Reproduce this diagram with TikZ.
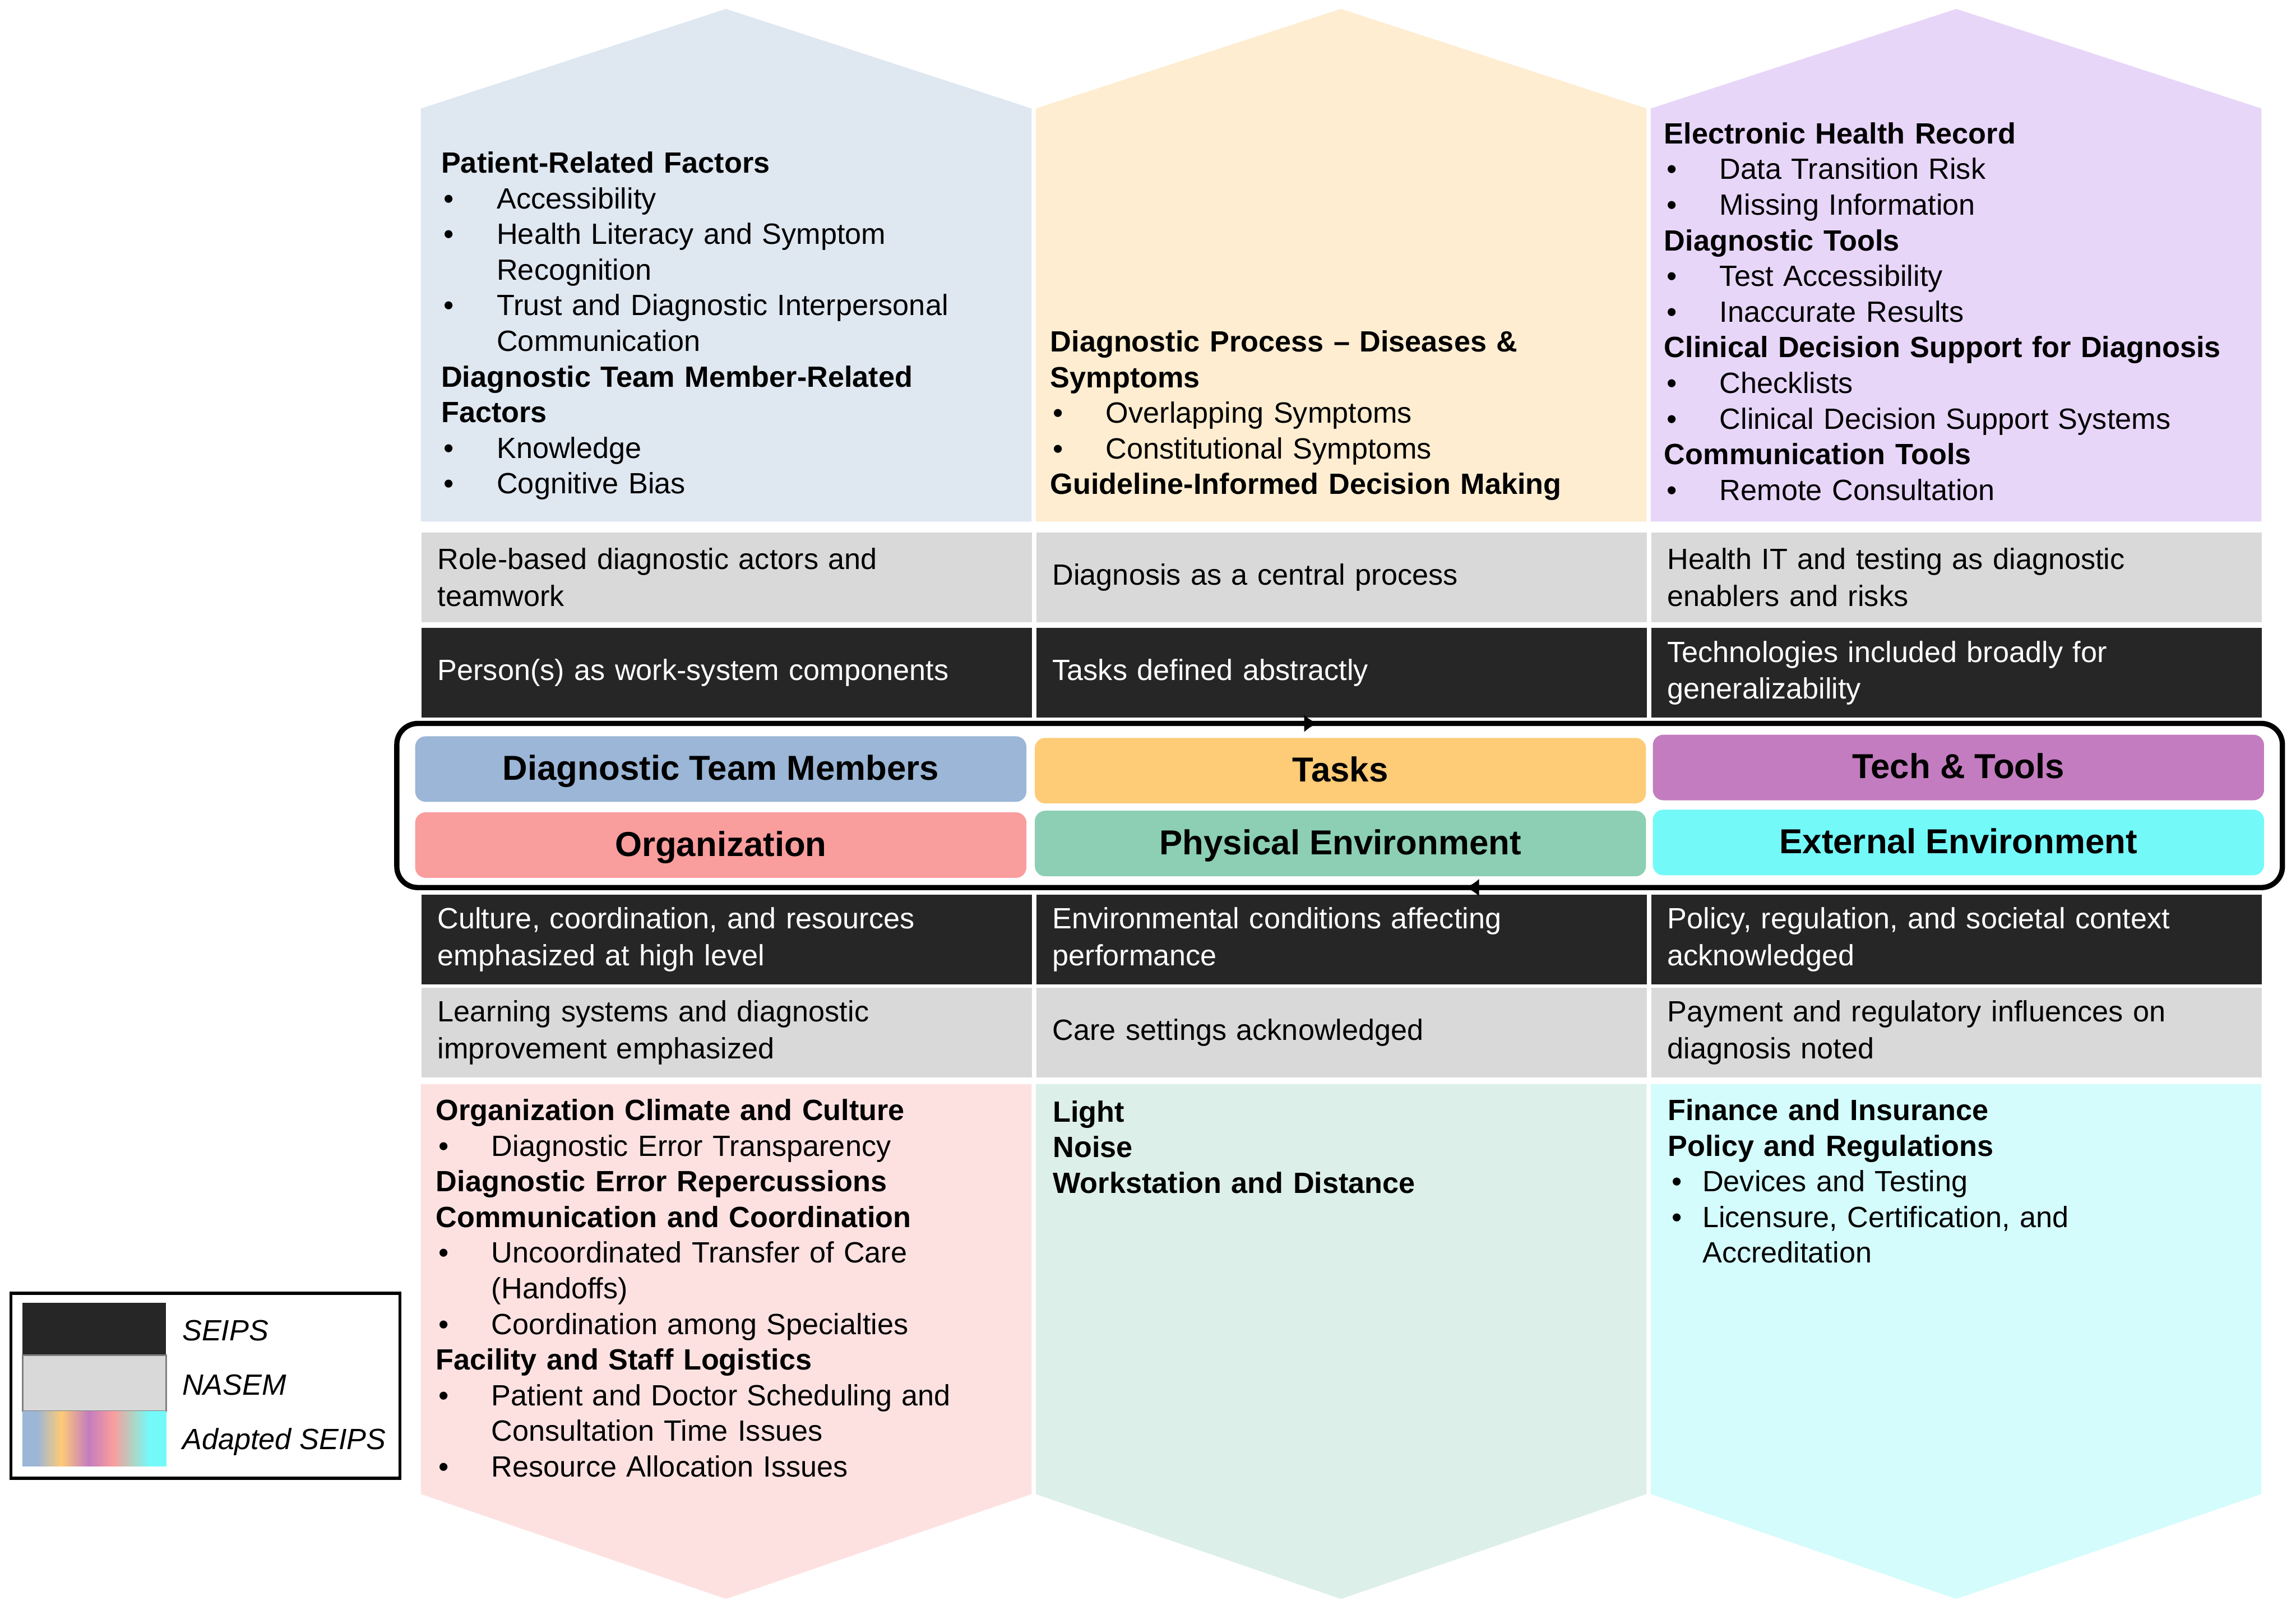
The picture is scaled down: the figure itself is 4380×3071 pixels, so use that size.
\documentclass[tikz,border=0pt]{standalone}
\usepackage{fontspec}
\setmainfont{Liberation Sans}
\usetikzlibrary{arrows.meta,positioning,decorations.markings}
\definecolor{seips}{RGB}{38,38,38}
\definecolor{nasem}{RGB}{217,217,217}
\definecolor{teamhead}{RGB}{155,182,214}
\definecolor{taskhead}{RGB}{254,203,119}
\definecolor{techhead}{RGB}{195,124,191}
\definecolor{orghead}{RGB}{250,157,157}
\definecolor{physhead}{RGB}{140,207,180}
\definecolor{exthead}{RGB}{116,249,249}
\definecolor{teamlight}{RGB}{223,231,241}
\definecolor{tasklight}{RGB}{254,237,209}
\definecolor{techlight}{RGB}{232,214,249}
\definecolor{orglight}{RGB}{253,225,225}
\definecolor{physlight}{RGB}{220,239,232}
\definecolor{extlight}{RGB}{212,252,252}
\colorlet{legmix}{physhead!55!nasem}
\pgfdeclarehorizontalshading{adapted}{100bp}{color(0bp)=(teamhead); color(30bp)=(teamhead);
  color(38.5bp)=(taskhead); color(48bp)=(techhead); color(56.5bp)=(orghead);
  color(63.5bp)=(legmix); color(69bp)=(exthead); color(100bp)=(exthead)}
\newcommand{\rowfont}{\fontsize{15.9pt}{19.9pt}\selectfont}
\newcommand{\facfont}{\fontsize{15.9pt}{19.35pt}\selectfont}
\newcommand{\compfont}{\fontsize{18.8pt}{22pt}\selectfont\bfseries}
\newcommand{\bul}{\makebox[10.6mm][l]{\hspace{0.5mm}\textbullet}}
\newcommand{\cont}{\hspace*{10.6mm}}
\newcommand{\sbul}{\makebox[6.6mm][l]{\hspace{0.8mm}\textbullet}}
\tikzset{
  seipsrow/.style={fill=seips,text=white,anchor=north west,inner xsep=3.1mm,inner ysep=0pt,
                   text width=110.3mm,minimum height=17.1mm,align=left,font=\rowfont},
  nasemrow/.style={seipsrow,fill=nasem,text=black},
  comp/.style={rounded corners=2mm,minimum width=116.6mm,minimum height=12.5mm,
               text height=5.2mm,text depth=1mm,font=\compfont},
  factors/.style={anchor=base west,inner sep=0pt,text width=112mm,align=left,font=\facfont},
  legtext/.style={anchor=base west,inner sep=0pt,font=\rowfont\itshape},
  loopline/.style={line width=1mm,rounded corners=4mm,postaction={decorate},
    decoration={markings,
      mark=at position 0.2394 with {\arrow{Latex[length=2.6mm,width=3.4mm]}},
      mark=at position 0.7138 with {\arrow{Latex[length=2.6mm,width=3.4mm]}}}}
}

\begin{document}
\begin{tikzpicture}[x=0.1mm,y=-0.1mm]
  \useasboundingbox (0,0) rectangle (4380,3071);
  \fill[white] (0,0) rectangle (4380,3071);

  \fill[teamlight] (803,995) -- (803,207) -- (1385,17) -- (1968,207) -- (1968,995) -- cycle;
  \fill[tasklight] (1976,995) -- (1976,207) -- (2558,17) -- (3141,207) -- (3141,995) -- cycle;
  \fill[techlight] (3149,995) -- (3149,207) -- (3732,17) -- (4314,207) -- (4314,995) -- cycle;
  \fill[orglight] (803,2068) -- (1968,2068) -- (1968,2850) -- (1385,3050) -- (803,2850) -- cycle;
  \fill[physlight] (1976,2068) -- (3141,2068) -- (3141,2850) -- (2558,3050) -- (1976,2850) -- cycle;
  \fill[extlight] (3149,2068) -- (4314,2068) -- (4314,2850) -- (3732,3050) -- (3149,2850) -- cycle;

  \node[nasemrow] (teamnasem) at (803,1015) {Role-based diagnostic actors and\\teamwork};
  \node[nasemrow] (tasknasem) at (1976,1015) {Diagnosis as a central process};
  \node[nasemrow] (technasem) at (3149,1015) {Health IT and testing as diagnostic\\enablers and risks};
  \node[seipsrow,below=1mm of teamnasem] (teamseips) {Person(s) as work-system components};
  \node[seipsrow,below=1mm of tasknasem] (taskseips) {Tasks defined abstractly};
  \node[seipsrow,below=1mm of technasem] (techseips) {Technologies included broadly for\\generalizability};

  \node[seipsrow] (orgseips) at (803,1706) {Culture, coordination, and resources\\emphasized at high level};
  \node[seipsrow] (physseips) at (1976,1706) {Environmental conditions affecting\\performance};
  \node[seipsrow] (extseips) at (3149,1706) {Policy, regulation, and societal context\\acknowledged};
  \node[nasemrow,below=0.5mm of orgseips] (orgnasem) {Learning systems and diagnostic\\improvement emphasized};
  \node[nasemrow,below=0.5mm of physseips] (physnasem) {Care settings acknowledged};
  \node[nasemrow,below=0.5mm of extseips] (extnasem) {Payment and regulatory influences on\\diagnosis noted};

  \draw[loopline] (757,1536) -- (757,1380) -- (4354,1380) -- (4354,1693) -- (757,1693) -- cycle;

  \node[comp,fill=teamhead] (team) at (1375,1467) {Diagnostic Team Members};
  \node[comp,fill=taskhead] (task) at (2557,1470) {Tasks};
  \node[comp,fill=techhead] (tech) at (3736,1464) {Tech \& Tools};
  \node[comp,fill=orghead] (org) at (1375,1612) {Organization};
  \node[comp,fill=physhead] (phys) at (2557,1609) {Physical Environment};
  \node[comp,fill=exthead] (ext) at (3736,1607) {External Environment};

  \node[factors] (teamfac) at (841,330) {\textbf{Patient-Related Factors}\\
    \bul Accessibility\\
    \bul Health Literacy and Symptom\\
    \cont Recognition\\
    \bul Trust and Diagnostic Interpersonal\\
    \cont Communication\\
    \textbf{Diagnostic Team Member-Related}\\
    \textbf{Factors}\\
    \bul Knowledge\\
    \bul Cognitive Bias};
  \node[factors] (taskfac) at (2003,671) {\textbf{Diagnostic Process – Diseases \&}\\
    \textbf{Symptoms}\\
    \bul Overlapping Symptoms\\
    \bul Constitutional Symptoms\\
    \textbf{Guideline-Informed Decision Making}};
  \node[factors] (techfac) at (3174,274) {\textbf{Electronic Health Record}\\
    \bul Data Transition Risk\\
    \bul Missing Information\\
    \textbf{Diagnostic Tools}\\
    \bul Test Accessibility\\
    \bul Inaccurate Results\\
    \textbf{Clinical Decision Support for Diagnosis}\\
    \bul Checklists\\
    \bul Clinical Decision Support Systems\\
    \textbf{Communication Tools}\\
    \bul Remote Consultation};
  \node[factors] (orgfac) at (831,2137) {\textbf{Organization Climate and Culture}\\
    \bul Diagnostic Error Transparency\\
    \textbf{Diagnostic Error Repercussions}\\
    \textbf{Communication and Coordination}\\
    \bul Uncoordinated Transfer of Care\\
    \cont (Handoffs)\\
    \bul Coordination among Specialties\\
    \textbf{Facility and Staff Logistics}\\
    \bul Patient and Doctor Scheduling and\\
    \cont Consultation Time Issues\\
    \bul Resource Allocation Issues};
  \node[factors] (physfac) at (2008,2140) {\textbf{Light}\\
    \textbf{Noise}\\
    \textbf{Workstation and Distance}};
  \node[factors] (extfac) at (3181,2137) {\textbf{Finance and Insurance}\\
    \textbf{Policy and Regulations}\\
    \sbul Devices and Testing\\
    \sbul Licensure, Certification, and\\
    \hspace*{6.6mm}Accreditation};

  \draw[line width=0.6mm] (21,2467) rectangle (763,2820);
  \fill[seips] (43,2485) rectangle (317,2585);
  \filldraw[fill=nasem,draw=gray,line width=0.3mm] (43,2585) rectangle (317,2692);
  \shade[shading=adapted] (43,2692) rectangle (317,2797);
  \node[legtext] (legseips) at (347,2557) {SEIPS};
  \node[legtext] (legnasem) at (347,2661) {NASEM};
  \node[legtext] (legadapt) at (347,2765) {Adapted SEIPS};
\end{tikzpicture}
\end{document}
